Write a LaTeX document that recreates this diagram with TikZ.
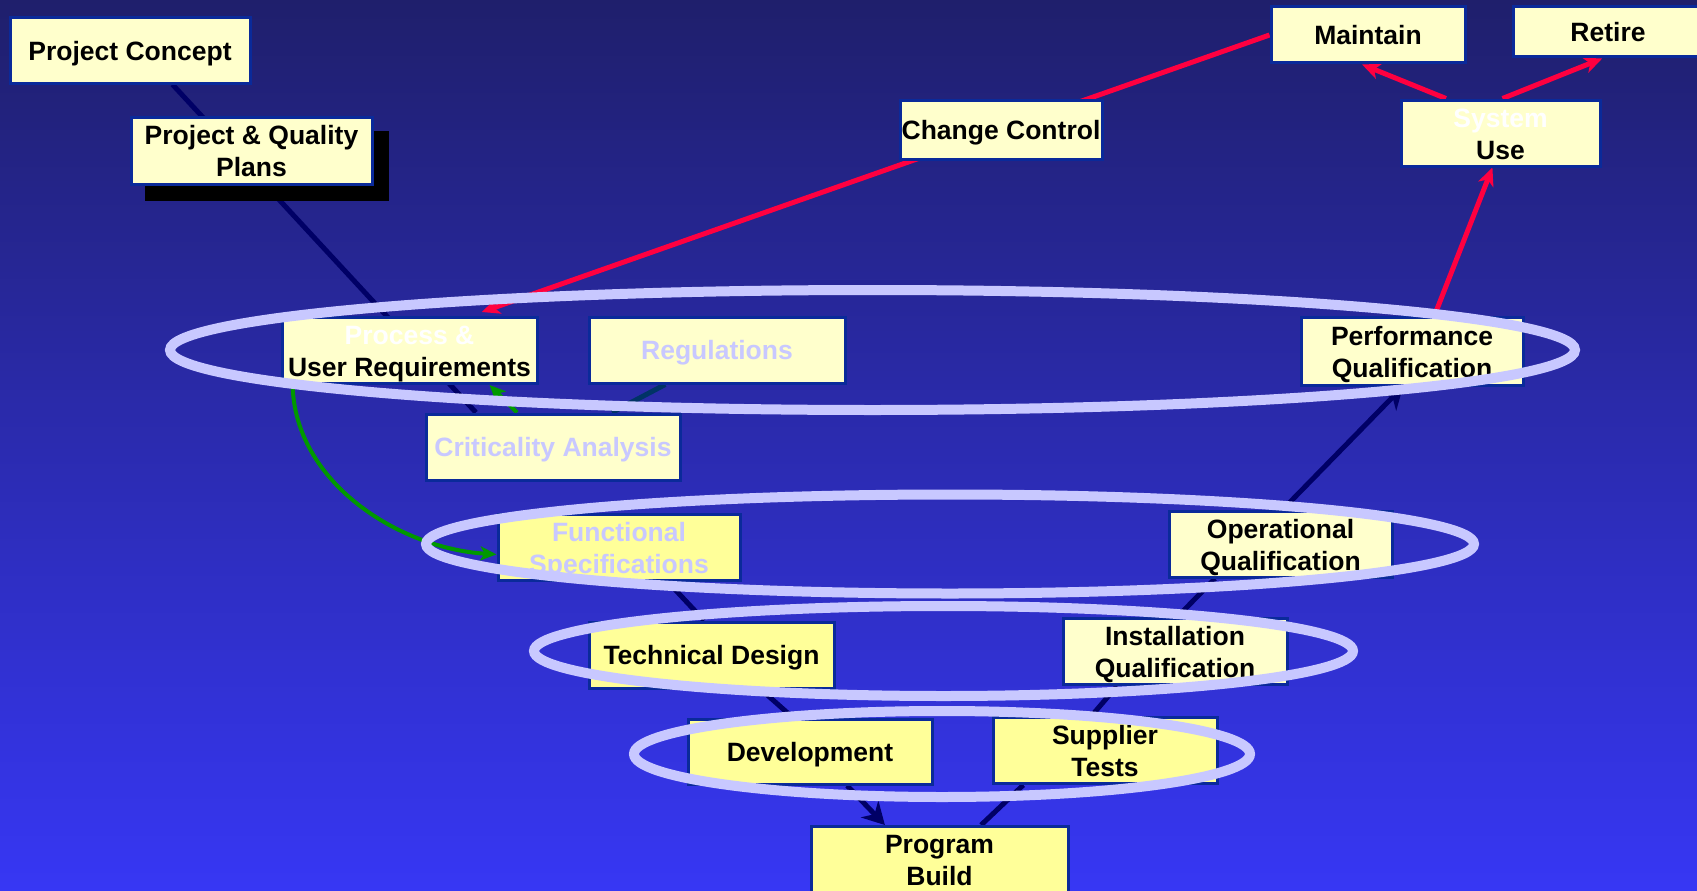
\documentclass[tikz,border=0pt]{standalone}
\usepackage{fontspec}
\setmainfont{Liberation Sans}
\usetikzlibrary{arrows.meta,calc}
\definecolor{bgtop}{HTML}{1F1F6C}
\definecolor{bgbot}{HTML}{3737F4}
\definecolor{cream}{HTML}{FFFFCC}
\definecolor{lemon}{HTML}{FFFF99}
\definecolor{boxborder}{HTML}{0A2A9A}
\definecolor{navyl}{HTML}{000066}
\definecolor{darkteal}{HTML}{003366}
\definecolor{ringc}{HTML}{C8C8FF}
\definecolor{redl}{HTML}{FF0040}
\definecolor{greenl}{HTML}{009900}
\definecolor{ghost}{HTML}{C8C8FF}
\pgfdeclarelayer{back}
\pgfdeclarelayer{lines}
\pgfdeclarelayer{front}
\pgfsetlayers{back,lines,main,front}
\newcommand{\boxstrut}{\rule[-7pt]{0pt}{33pt}}
\newcommand{\tallstrut}{\rule[-7pt]{0pt}{66pt}}
\begin{document}
\begin{tikzpicture}[x=1pt,y=-1pt,
  box/.style={draw=boxborder, line width=3pt, fill=cream, inner sep=0pt, align=center,
    font=\bfseries\fontsize{26.5}{32}\selectfont,
    execute at begin node={\boxstrut}, execute at end node={\boxstrut}},
  ybox/.style={box, fill=lemon},
  twoline/.style={execute at begin node={\tallstrut}, execute at end node={\tallstrut}},
  vline/.style={draw=navyl, line width=5pt},
  rline/.style={draw=redl, line width=5pt},
  gline/.style={draw=greenl, line width=4pt},
  ring/.style={draw=ringc, line width=10pt},
  navytip/.style={-{Stealth[length=22pt,width=24pt,inset=7pt]}},
  redtip/.style={-{Stealth[length=18pt,width=16pt,inset=5pt]}},
  greentip/.style={-{Stealth[length=16pt,width=14pt,inset=4pt]}}
]
\useasboundingbox (0,0) rectangle (1697,891);
\clip (0,0) rectangle (1697,891);
\begin{pgfonlayer}{back}
\shade[top color=bgtop, bottom color=bgbot] (0,0) rectangle (1697,891);
\end{pgfonlayer}

% boxes
\node[box, minimum width=240pt, minimum height=65pt] (PC) at (130,50.5) {Project Concept};
\node[box, twoline, minimum width=241pt, minimum height=67pt] (PQP) at (251.5,150.5) {Project \& Quality\\Plans};
\node[box, minimum width=202pt, minimum height=59pt] (CC) at (1001,129.5) {Change Control};
\node[box, minimum width=194pt, minimum height=56pt] (M) at (1368,35) {Maintain};
\node[box, minimum width=190pt, minimum height=50pt] (R) at (1608,32) {Retire};
\node[box, twoline, minimum width=199pt, minimum height=58pt] (SU) at (1500.5,133) {\textcolor{white}{System}\\Use};
\node[box, twoline, minimum width=255pt, minimum height=65pt] (PUR) at (409.5,350.5) {\textcolor{white}{Process \&}\\User Requirements};
\node[box, minimum width=256pt, minimum height=66pt, text=ghost] (REG) at (717,350) {Regulations};
\node[box, minimum width=254pt, minimum height=66pt, text=ghost] (CA) at (553,447) {Criticality Analysis};
\node[ybox, twoline, minimum width=242pt, minimum height=65pt, text=ghost] (FS) at (619,547.5) {Functional\\Specifications};
\node[ybox, minimum width=245pt, minimum height=66pt] (TD) at (711.5,655) {Technical Design};
\node[ybox, minimum width=244pt, minimum height=65pt] (DEV) at (810,751.5) {Development};
\node[ybox, twoline, minimum width=224pt, minimum height=65pt] (ST) at (1105,750.5) {Supplier\\Tests};
\node[ybox, twoline, minimum width=257pt, minimum height=65pt] (PB) at (939.5,859.5) {Program\\Build};
\node[box, twoline, minimum width=224pt, minimum height=65pt] (IQ) at (1175,651.5) {Installation\\Qualification};
\node[box, twoline, minimum width=223pt, minimum height=66pt] (OQ) at (1280.5,544) {Operational\\Qualification};
\node[box, twoline, minimum width=222pt, minimum height=68pt] (PQ) at (1412,351) {Performance\\Qualification};

% connectors behind the boxes
\begin{pgfonlayer}{lines}
\draw[vline] ($(PC.south west)!0.675!(PC.south east)$) -- ($(CA.north west)!0.2!(CA.north east)$);
\draw[vline, draw=darkteal] ($(REG.south west)!0.3!(REG.south east)$) -- ($(CA.north west)!0.73!(CA.north east)$);
\draw[vline] ($(FS.south west)!0.7!(FS.south east)$) -- ($(TD.north west)!0.47!(TD.north east)$);
\draw[vline] ($(TD.south west)!0.7!(TD.south east)$) -- ($(DEV.north west)!0.43!(DEV.north east)$);
\draw[vline, navytip] ($(DEV.south west)!0.65!(DEV.south east)$) -- ($(PB.north west)!0.29!(PB.north east)$);
\draw[vline] ($(PB.north west)!0.66!(PB.north east)$) -- ($(ST.south west)!0.14!(ST.south east)$);
\draw[vline] ($(ST.north west)!0.44!(ST.north east)$) -- ($(IQ.south west)!0.245!(IQ.south east)$);
\draw[vline] ($(IQ.north west)!0.51!(IQ.north east)$) -- ($(OQ.south west)!0.21!(OQ.south east)$);
\draw[vline, navytip] ($(OQ.north west)!0.51!(OQ.north east)$) -- ($(PQ.south west)!0.46!(PQ.south east)$);
\draw[rline, redtip] ($(PQ.north west)!0.6!(PQ.north east)$) -- ($(SU.south west)!0.46!(SU.south east)$);
\draw[rline, redtip] ($(SU.north west)!0.23!(SU.north east)$) -- ($(M.south west)!0.47!(M.south east)$);
\draw[rline, redtip] ($(SU.north west)!0.51!(SU.north east)$) -- ($(R.south west)!0.47!(R.south east)$);
\draw[rline, redtip] (M.west) -- ($(PUR.north west)!0.78!(PUR.north east)+(0,-4)$);
\draw[gline, greentip] ($(CA.north west)!0.36!(CA.north east)$) -- ($(PUR.south west)!0.81!(PUR.south east)$);
\draw[gline, greentip] ($(PUR.south west)!0.047!(PUR.south east)$) .. controls +(2,97) and +(-98,-6) .. ($(FS.north west)!0.6!(FS.south west)$);
\fill[black] ($(PQP.south west)+(15,15)$) rectangle ($(PQP.north east)+(15,15)$);
\end{pgfonlayer}

% rings
\begin{pgfonlayer}{front}
\draw[ring] (872.5,350) ellipse [x radius=702.5pt, y radius=60pt];
\draw[ring] (950,544) ellipse [x radius=524pt, y radius=49.5pt];
\draw[ring] (943.5,651) ellipse [x radius=409.5pt, y radius=45pt];
\draw[ring] (942,754) ellipse [x radius=308pt, y radius=43pt];
\end{pgfonlayer}
\end{tikzpicture}
\end{document}
